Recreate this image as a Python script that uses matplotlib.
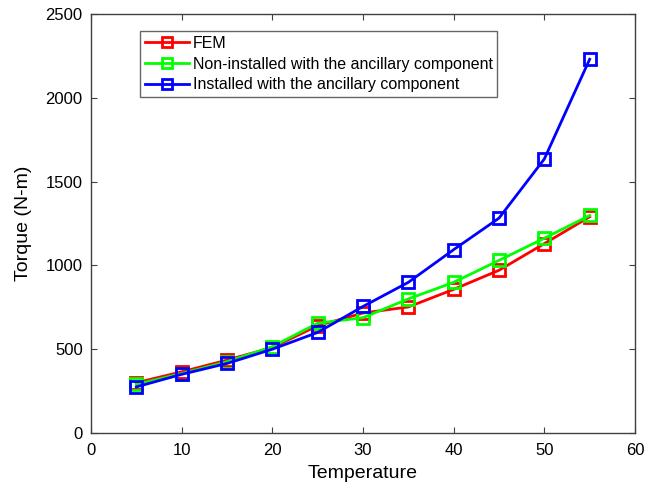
import matplotlib
matplotlib.use("Agg")
import matplotlib.pyplot as plt

plt.rcParams['font.family'] = ['Liberation Sans', 'DejaVu Sans']

temperature = [5, 10, 15, 20, 25, 30, 35, 40, 45, 50, 55]
fem = [300, 365, 435, 510, 640, 716, 752, 857, 971, 1130, 1290]
non_installed = [290, 355, 425, 515, 655, 688, 800, 899, 1030, 1162, 1298]
installed = [275, 350, 415, 500, 600, 755, 899, 1094, 1282, 1635, 2230]
labels = ["FEM", "Non-installed with the ancillary component",
          "Installed with the ancillary component"]

fig = plt.figure(figsize=(6.61, 4.88), dpi=100)
L, R, B, T = 91 / 661, 635 / 661, 1 - 433 / 488, 1 - 14 / 488
ax = fig.add_axes([L, B, R - L, T - B])

for y, c, lab in [(fem, '#ff0000', labels[0]), (non_installed, '#00ff00', labels[1]),
                  (installed, '#0000ff', labels[2])]:
    ax.plot(temperature, y, color=c, lw=2, marker='s', ms=8, mfc='none',
            mec=c, mew=2, label=lab)

ax.set_xlim(0, 60)
ax.set_ylim(0, 2500)
ax.set_xticks(range(0, 61, 10))
ax.set_yticks(range(0, 2501, 500))
ax.tick_params(direction='in', labelsize=12, top=True, right=True, length=4,
               color='#404040')
ax.tick_params(axis='x', pad=7)
ax.tick_params(axis='y', pad=6)
ax.set_xlabel('Temperature', fontsize=14, labelpad=5)
ax.set_ylabel('Torque (N-m)', fontsize=14, labelpad=10)
for s in ax.spines.values():
    s.set_linewidth(1)
    s.set_color('#404040')

leg = ax.legend(loc='upper left', bbox_to_anchor=(0.090, 0.959), fontsize=11.5,
                frameon=True, fancybox=False, edgecolor='#404040', borderpad=0.3,
                labelspacing=0.35, handlelength=2.8, handletextpad=0.2,
                borderaxespad=0, markerscale=0.85)
leg.get_frame().set_linewidth(1)

fig.savefig('out.png', dpi=100)
